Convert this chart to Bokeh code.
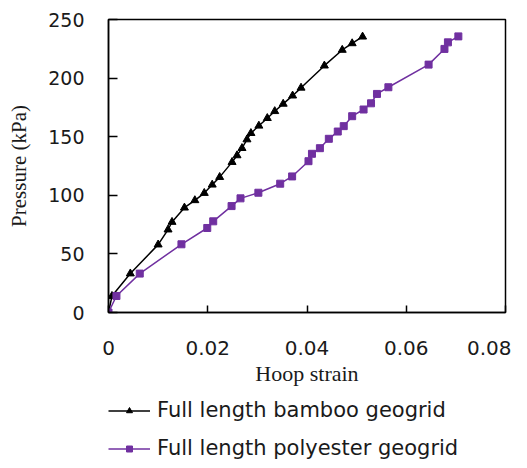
from bokeh.plotting import figure
from bokeh.models import Legend, LegendItem, FixedTicker
from bokeh.layouts import column
from bokeh.embed import file_html
from bokeh.resources import INLINE

# Data
bamboo_strain = [0.0, 0.0007, 0.0044, 0.0100, 0.0120, 0.0128, 0.0153, 0.0174, 0.0193,
                 0.0209, 0.0224, 0.0249, 0.0259, 0.0269, 0.0279, 0.0287, 0.0303, 0.0320,
                 0.0335, 0.0352, 0.0371, 0.0388, 0.0435, 0.0471, 0.0491, 0.0512]
bamboo_pressure = [0.0, 14.0, 33.2, 57.9, 70.7, 77.2, 89.4, 95.7, 101.9,
                   109.0, 115.5, 128.3, 134.0, 140.2, 147.6, 153.0, 159.3, 165.8,
                   171.7, 178.0, 185.0, 191.7, 210.6, 224.0, 229.6, 235.3]

poly_strain = [0.0, 0.0016, 0.0063, 0.0147, 0.0199, 0.0211, 0.0248, 0.0266, 0.0302,
               0.0346, 0.0370, 0.0403, 0.0410, 0.0426, 0.0444, 0.0462, 0.0474, 0.0491,
               0.0514, 0.0529, 0.0541, 0.0564, 0.0645, 0.0677, 0.0684, 0.0705]
poly_pressure = [0.0, 14.1, 33.2, 58.2, 72.1, 77.8, 90.8, 97.4, 102.2,
                 109.9, 116.1, 129.1, 135.4, 140.2, 148.2, 154.4, 159.0, 167.5,
                 173.2, 178.5, 186.5, 192.2, 211.5, 224.9, 230.5, 235.6]

x_ticks = [0, 0.02, 0.04, 0.06, 0.08]
x_tick_labels = ["0", "0.02", "0.04", "0.06", "0.08"]
y_ticks = [0, 50, 100, 150, 200, 250]

series_names = ["Full length bamboo geogrid", "Full length polyester geogrid"]

BLACK = "#000000"
PURPLE = "#7030A0"
TEXT = "#1a1a1a"
TICK_FONT = "DejaVu Sans"
TITLE_FONT = "Liberation Serif"

p = figure(width=511, height=392, output_backend="svg", toolbar_location=None,
           x_range=(0, 0.08), y_range=(0, 250),
           min_border_left=108, min_border_right=6, min_border_top=19,
           min_border_bottom=80)

p.grid.visible = False
p.outline_line_color = "black"
p.outline_line_width = 1.5
p.background_fill_color = "white"
p.border_fill_color = "white"

p.line(bamboo_strain, bamboo_pressure, line_color=BLACK, line_width=1.5)
p.scatter(bamboo_strain, bamboo_pressure, marker="triangle", size=8,
          fill_color=BLACK, line_color=BLACK)
p.line(poly_strain, poly_pressure, line_color=PURPLE, line_width=1.5)
p.scatter(poly_strain, poly_pressure, marker="square", size=7,
          fill_color=PURPLE, line_color=PURPLE)

# axes
xa = p.xaxis[0]
xa.ticker = FixedTicker(ticks=x_ticks)
xa.major_label_overrides = {t: l for t, l in zip(x_ticks, x_tick_labels)}
xa.major_tick_in = 7
xa.major_tick_out = 0
xa.minor_tick_in = 0
xa.minor_tick_out = 0
xa.axis_line_width = 1.5
xa.major_tick_line_width = 1.5
xa.major_label_standoff = 28
xa.major_label_text_font = TICK_FONT
xa.major_label_text_font_size = "20px"
xa.major_label_text_color = TEXT
xa.axis_label = "Hoop strain"
xa.axis_label_text_font = TITLE_FONT
xa.axis_label_text_font_style = "normal"
xa.axis_label_text_font_size = "22px"
xa.axis_label_text_color = TEXT
xa.axis_label_standoff = 3

ya = p.yaxis[0]
ya.ticker = FixedTicker(ticks=y_ticks)
ya.major_tick_in = 9
ya.major_tick_out = 0
ya.minor_tick_in = 0
ya.minor_tick_out = 0
ya.axis_line_width = 1.5
ya.major_tick_line_width = 1.5
ya.major_label_standoff = 24
ya.major_label_text_font = TICK_FONT
ya.major_label_text_font_size = "19px"
ya.major_label_text_color = TEXT
ya.axis_label = "Pressure (kPa)"
ya.axis_label_text_font = TITLE_FONT
ya.axis_label_text_font_style = "normal"
ya.axis_label_text_font_size = "21px"
ya.axis_label_text_color = TEXT
ya.axis_label_standoff = 14

# legend lives in a small axis-less figure below the chart; its renderers
# reuse the series data but sit outside that figure's visible ranges
lg = figure(width=511, height=68, output_backend="svg", toolbar_location=None,
            x_range=(1, 2), y_range=(1000, 1001), x_axis_location=None, y_axis_location=None,
            min_border_left=108, min_border_right=6, min_border_top=0, min_border_bottom=0)
lg.grid.visible = False
lg.outline_line_color = None
lg.border_fill_color = "white"
lg.background_fill_color = "white"

l1 = lg.line(bamboo_strain, bamboo_pressure, line_color=BLACK, line_width=1.5)
m1 = lg.scatter(bamboo_strain, bamboo_pressure, marker="triangle", size=8,
                fill_color=BLACK, line_color=BLACK)
l2 = lg.line(poly_strain, poly_pressure, line_color=PURPLE, line_width=1.5)
m2 = lg.scatter(poly_strain, poly_pressure, marker="square", size=7,
                fill_color=PURPLE, line_color=PURPLE)

legend = Legend(items=[LegendItem(label=series_names[0], renderers=[l1, m1]),
                       LegendItem(label=series_names[1], renderers=[l2, m2])],
                location=(0, 0), orientation="vertical",
                border_line_alpha=0, background_fill_alpha=0,
                padding=0, margin=0, spacing=14,
                glyph_width=42, glyph_height=15, label_height=20,
                label_standoff=7,
                label_text_font=TICK_FONT, label_text_font_size="21px",
                label_text_color=TEXT)
lg.add_layout(legend, "center")

layout = column(p, lg, spacing=0)
open("out.html", "w").write(file_html(layout, INLINE))
